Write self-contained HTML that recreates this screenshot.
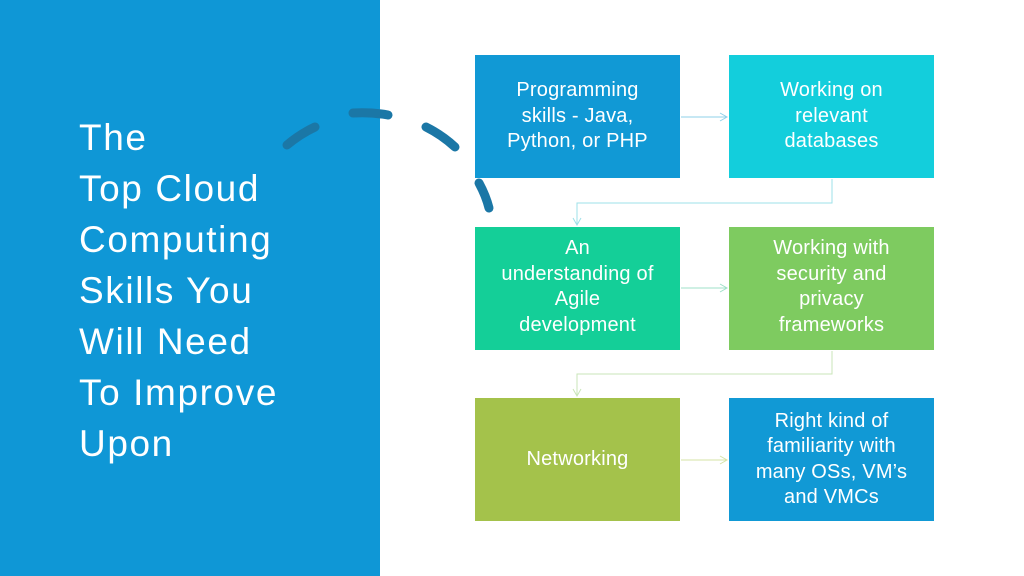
<!DOCTYPE html>
<html><head><meta charset="utf-8"><style>
*{margin:0;padding:0;box-sizing:border-box}
body{width:1024px;height:576px;position:relative;background:#fff;overflow:hidden;font-family:"Liberation Sans",sans-serif}
.left{position:absolute;left:0;top:0;width:380px;height:576px;background:#0f97d6}
.title{position:absolute;left:79px;top:112px;color:#fff;font-size:37px;line-height:51px;white-space:nowrap;letter-spacing:1.6px}
.box{position:absolute;width:205px;height:123px;display:flex;align-items:center;justify-content:center;text-align:center;color:#fff;font-size:20px;line-height:25.5px;white-space:nowrap;letter-spacing:0.2px}
.box.top{align-items:flex-start;padding-top:23px}
</style></head><body>
<div class="left"></div>
<div class="title">The<br>Top Cloud<br>Computing<br>Skills You<br>Will Need<br>To Improve<br>Upon</div>
<svg width="1024" height="576" style="position:absolute;left:0;top:0">
<g stroke="#1b77a6" stroke-width="9" stroke-linecap="round" fill="none">
<path d="M287 145 Q300 134 315 127"/>
<path d="M353 113 Q372 112 388 115"/>
<path d="M426 127 Q442 135 455 147"/>
<path d="M479 183 Q486 196 489 208"/>
</g>
<g fill="none" stroke-width="1">
<path d="M681 117 H726" stroke="#8fd0ea"/><path d="M720 113 L727 117 L720 121" stroke="#8fd0ea"/>
<path d="M832 179 V203 H577 V224" stroke="#9ee0e8"/><path d="M573 218 L577 225 L581 218" stroke="#9ee0e8"/>
<path d="M681 288 H726" stroke="#9fe0c8"/><path d="M720 284 L727 288 L720 292" stroke="#9fe0c8"/>
<path d="M832 351 V374 H577 V395" stroke="#c9e6b8"/><path d="M573 389 L577 396 L581 389" stroke="#c9e6b8"/>
<path d="M681 460 H726" stroke="#d5e3a6"/><path d="M720 456 L727 460 L720 464" stroke="#d5e3a6"/>
</g>
</svg>
<div class="box top" style="left:475px;top:55px;background:#1199d5">Programming<br>skills - Java,<br>Python, or PHP</div>
<div class="box top" style="left:729px;top:55px;background:#13cedc">Working on<br>relevant<br>databases</div>
<div class="box top" style="left:475px;top:227px;background:#14cf98;padding-top:9px">An<br>understanding of<br>Agile<br>development</div>
<div class="box top" style="left:729px;top:227px;background:#7ecb60;padding-top:9px">Working with<br>security and<br>privacy<br>frameworks</div>
<div class="box" style="left:475px;top:398px;background:#a4c24b">Networking</div>
<div class="box" style="left:729px;top:398px;background:#1199d5">Right kind of<br>familiarity with<br>many OSs, VM’s<br>and VMCs</div>
</body></html>
